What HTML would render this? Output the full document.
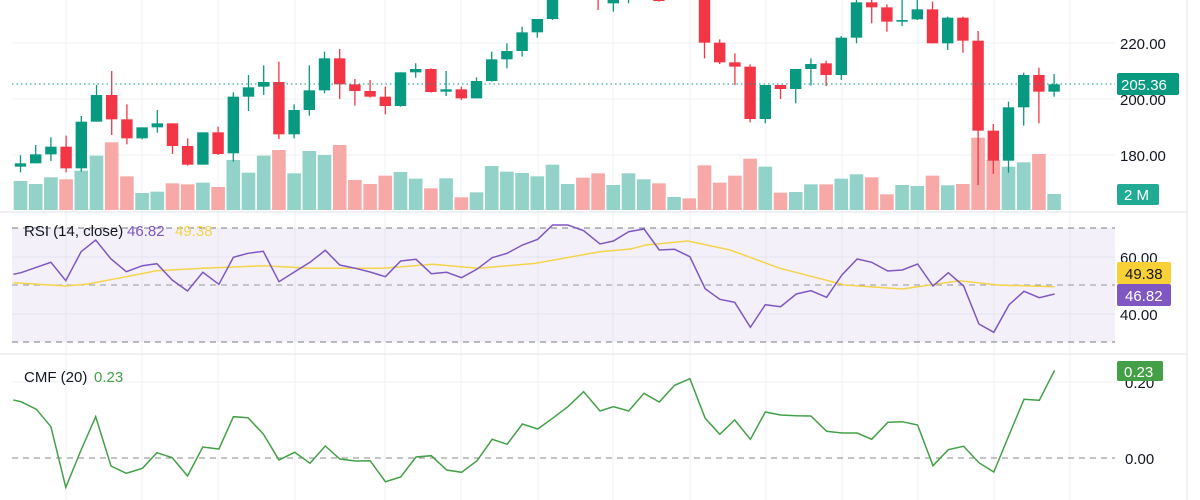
<!DOCTYPE html>
<html><head><meta charset="utf-8"><style>
html,body{margin:0;padding:0;background:#fff;}
svg{display:block;font-family:"Liberation Sans",sans-serif;}
</style></head><body>
<svg id="c" width="1200" height="500" xmlns="http://www.w3.org/2000/svg">
<rect width="1200" height="500" fill="#fff"/>
<g id="grid" stroke="#f0f2f5" stroke-width="1"></g>
<rect x="12" y="228" width="1103" height="114" fill="#7e57c2" fill-opacity="0.09"/>
<line x1="12" y1="228" x2="1115" y2="228" stroke="#787b86" stroke-dasharray="6,5"/>
<line x1="12" y1="285" x2="1115" y2="285" stroke="#9598a1" stroke-dasharray="6,5"/>
<line x1="12" y1="342" x2="1115" y2="342" stroke="#787b86" stroke-dasharray="6,5"/>
<line x1="12" y1="458" x2="1115" y2="458" stroke="#888" stroke-dasharray="6,5"/>
<line x1="0" y1="212" x2="1187" y2="212" stroke="#e0e3eb"/>
<line x1="0" y1="354" x2="1187" y2="354" stroke="#e0e3eb"/>
<line x1="1187" y1="0" x2="1187" y2="500" stroke="#e0e3eb"/>
<g id="vol"></g>
<g id="cand"></g>
<line x1="12" y1="84" x2="1115" y2="84" stroke="#089981" stroke-dasharray="1.5,3"/>
<polyline id="rsima" fill="none" stroke="#f5d34a" stroke-width="1.5"/>
<polyline id="rsi" fill="none" stroke="#7e57c2" stroke-width="1.5"/>
<polyline id="cmf" fill="none" stroke="#43a047" stroke-width="1.5"/>
<g font-size="15" fill="#131722">
<text x="1120" y="49">220.00</text>
<text x="1120" y="105">200.00</text>
<text x="1120" y="161">180.00</text>
<text x="1120" y="263">60.00</text>
<text x="1120" y="320">40.00</text>
<text x="1125" y="388">0.20</text>
<text x="1125" y="464">0.00</text>
</g>
<rect x="1117" y="73" width="62" height="22" rx="2" fill="#089981"/>
<text x="1121" y="90" font-size="15" fill="#fff">205.36</text>
<rect x="1117" y="184" width="42" height="21" rx="2" fill="#22ab94"/>
<text x="1124" y="200" font-size="15" fill="#fff">2 M</text>
<rect x="1117" y="262" width="54" height="22" rx="2" fill="#f9d035"/>
<text x="1125" y="279" font-size="15" fill="#131722">49.38</text>
<rect x="1117" y="284" width="54" height="22" rx="2" fill="#7e57c2"/>
<text x="1125" y="301" font-size="15" fill="#fff">46.82</text>
<rect x="1117" y="361" width="46" height="20" rx="2" fill="#43a047"/>
<text x="1124" y="377" font-size="15" fill="#fff">0.23</text>
<text x="24" y="236" font-size="15" fill="#131722">RSI (14, close)</text>
<text x="127" y="236" font-size="15" fill="#7e57c2">46.82</text>
<text x="175" y="236" font-size="15" fill="#f5d34a">49.38</text>
<text x="24" y="382" font-size="15" fill="#131722">CMF (20)</text>
<text x="94" y="382" font-size="15" fill="#43a047">0.23</text>
</svg>
<script>
var NS="http://www.w3.org/2000/svg";
function el(p,t,a){var e=document.createElementNS(NS,t);for(var k in a)e.setAttribute(k,a[k]);document.getElementById(p).appendChild(e);return e;}
[43,99,155,257,314,382].forEach(function(y){el("grid","line",{x1:12,y1:y,x2:1115,y2:y});});
[66,142,218,295,385,461,538,613,690,766,842,918,994,1070].forEach(function(x){el("grid","line",{x1:x,y1:0,x2:x,y2:500});});
var C=[
['G',490,500,466,517],['G',463,490,435,490],['G',440,463,412,483],['R',440,505,407,517],['G',365,505,348,515],
['G',285,365,255,365],['R',285,358,213,405],['R',358,415,313,433],['G',382,415,382,418],['G',370,382,330,398],
['R',370,438,370,462],['R',438,494,415,497],['G',397,494,397,494],['R',397,462,380,465],['G',290,460,277,485],
['G',262,290,225,333],['G',246,260,196,285],['R',246,403,185,417],['G',330,403,313,415],['G',271,330,196,347],
['G',175,271,155,280],['R',175,253,147,297],['R',253,273,237,317],['R',273,290,240,293],['R',290,318,260,343],
['G',217,318,217,320],['G',207,217,190,233],['R',207,276,205,278],['G',268,275,213,288],['R',268,295,260,300],
['G',243,295,232,295],['G',178,243,155,245],['G',153,178,130,205],['G',97,153,80,170],['G',57,97,57,113],
['G',-20,57,-40,60],['G',-80,-40,-100,-30],['R',-60,-20,-80,-10],['R',-30,0,-50,30],['G',-30,10,-50,35],
['G',-30,-10,-40,10],['G',-60,-30,-80,-20],['R',-10,3,-20,5],['G',-80,-40,-100,-30],['R',-60,-30,-80,-20],
['R',-10,128,-30,175],['R',128,187,118,192],['R',187,200,160,255],['R',200,357,193,367],['G',255,357,255,370],
['R',255,267,255,297],['G',207,267,207,310],['G',192,207,175,257],['R',190,225,182,258],['G',113,225,108,240],
['G',7,113,-5,130],['R',7,22,-5,70],['R',22,65,13,95],['G',60,65,-5,78],['G',28,58,-5,60],
['R',28,130,5,130],['G',53,130,50,150],['R',53,122,50,158],['R',122,392,93,555],['R',392,482,372,522],
['G',322,482,305,518],['G',225,322,218,377],['R',225,275,203,370],['G',253,275,222,290]];
var V=[543,552,532,538,512,467,427,529,579,575,550,553,548,561,480,518,467,450,520,453,465,435,540,552,527,516,536,565,535,592,577,498,515,519,529,494,552,533,520,555,520,538,550,591,595,496,548,527,476,500,578,576,553,553,536,523,532,583,555,558,527,556,552,413,480,500,487,462,582];
var VC="GGGRGGRRGGRRGRGGGRGGGRRRRGGRGRGGGGGGGRRGGGRGRRRRRGRGGRGGRRGGRGRRRGGRG";
for(var i=0;i<C.length;i++){
 var x=20.5+15.2*i,c=C[i],col=c[0]=='G'?'#089981':'#f23645';
 var vt=V[i]/3,vc=VC[i]=='G'?'#92d2c8':'#f7a9a7';
 el("vol","rect",{x:x-6.8,y:vt,width:13.6,height:210-vt,fill:vc});
 el("cand","line",{x1:x,y1:c[3]/3,x2:x,y2:c[4]/3,stroke:col,"stroke-width":1.3});
 var t=c[1]/3,b=c[2]/3;if(b-t<1.5)b=t+1.5;
 el("cand","rect",{x:x-5.7,y:t,width:11.4,height:b-t,fill:col});
}
var S=2.613;
function pts(a,b,y0){var o=[];a.forEach(function(p){o.push((p[0]/S).toFixed(1)+","+(y0+p[1]/3).toFixed(1));});b.forEach(function(p){o.push((600+p[0]/S).toFixed(1)+","+(y0+p[1]/3).toFixed(1));});return o.join(" ");}
document.getElementById("rsi").setAttribute("points",pts(
[[35,193],[55,188],[133,157],[172,212],[212,125],[250,90],[290,147],[330,185],[372,167],[410,161],[450,210],[490,243],[530,187],[572,223],[610,142],[648,130],[688,124],[729,215],[770,185],[810,157],[850,121],[888,165],[929,175],[967,186],[1007,200],[1047,153],[1087,148],[1127,191],[1167,187],[1206,203],[1246,178],[1286,143],[1325,130],[1365,105],[1405,88],[1444,45],[1484,45],[1525,62]],
[[0,102],[35,93],[75,65],[115,57],[155,120],[195,118],[235,140],[275,236],[313,268],[352,277],[393,352],[432,284],[472,290],[513,252],[551,242],[592,262],[632,195],[672,147],[710,157],[752,183],[790,180],[830,162],[870,228],[910,188],[950,228],[990,342],[1029,367],[1069,284],[1108,244],[1148,263],[1188,252]],210));
document.getElementById("rsima").setAttribute("points",pts(
[[35,218],[172,228],[230,222],[330,200],[410,182],[530,175],[690,167],[810,175],[1000,175],[1130,163],[1250,175],[1400,160]],
[[0,125],[80,117],[120,105],[230,93],[340,120],[470,175],[640,225],[790,237],[940,212],[1040,225],[1188,230]],210));
document.getElementById("cmf").setAttribute("points",pts(
[[35,135],[55,140],[95,163],[133,215],[172,397],[212,285],[250,185],[290,333],[330,355],[372,340],[410,293],[450,308],[490,363],[530,276],[572,282],[610,185],[648,188],[688,237],[729,315],[770,292],[810,325],[850,273],[888,312],[929,318],[967,317],[1007,380],[1047,366],[1087,306],[1127,302],[1167,345],[1206,352],[1246,318],[1286,253],[1325,268],[1365,207],[1405,222],[1444,190],[1484,155],[1525,110]],
[[0,168],[35,155],[75,168],[115,115],[155,141],[195,91],[235,71],[275,190],[313,238],[352,195],[393,253],[432,171],[472,180],[513,182],[551,183],[592,229],[632,234],[672,234],[710,253],[752,202],[790,200],[830,210],[870,332],[910,284],[950,274],[990,323],[1029,351],[1069,240],[1108,133],[1148,136],[1188,46]],355));
</script>
</body></html>
